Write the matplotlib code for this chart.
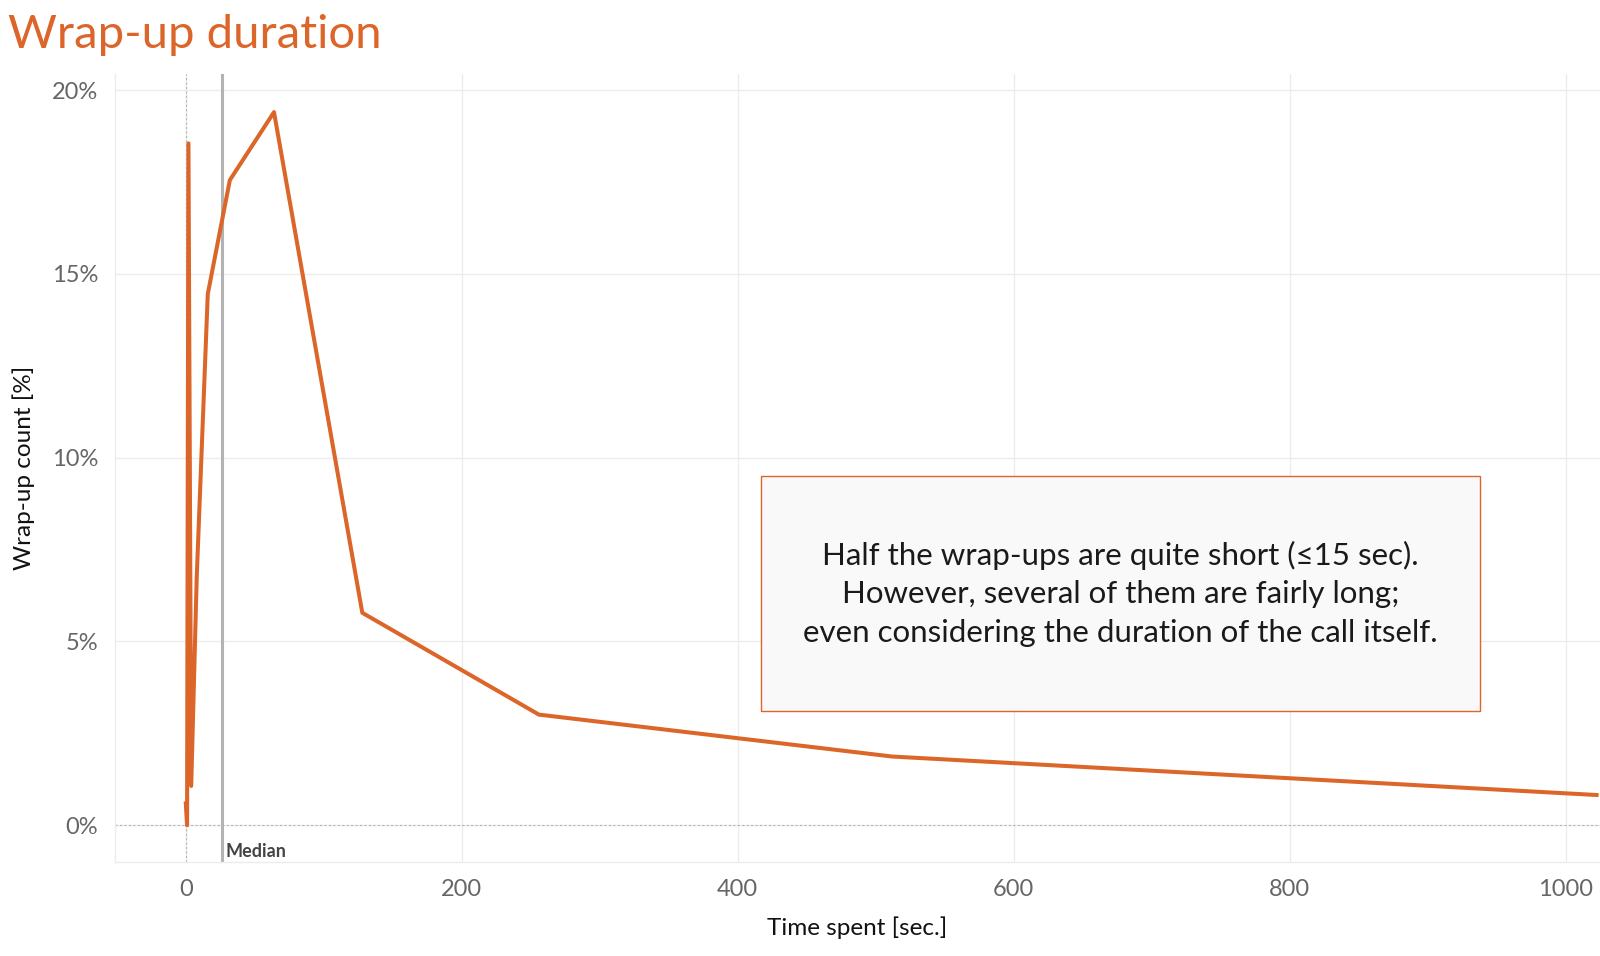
"""Wrap-up duration: share of wrap-ups per (log-spaced) duration bin."""

import matplotlib

matplotlib.use("Agg")
import matplotlib.pyplot as plt
from matplotlib.patches import Rectangle
from matplotlib.ticker import FuncFormatter

# ---------------------------------------------------------------------------
# Data
# ---------------------------------------------------------------------------
time_sec = [0, 1, 2, 4, 8, 16, 32, 64, 128, 256, 512, 1024]
wrapup_pct = [0.65, 0.0, 18.55, 1.07, 6.75, 14.45, 17.55, 19.40, 5.78, 3.01, 1.87, 0.82]
median_sec = 26
x_ticks = [0, 200, 400, 600, 800, 1000]
y_ticks = [0, 5, 10, 15, 20]
note = (
    "Half the wrap-ups are quite short (\u226415 sec).\n"
    "However, several of them are fairly long;\n"
    "even considering the duration of the call itself."
)

ORANGE = "#dc6529"
GRID = "#ececec"

plt.rcParams["font.family"] = ["Lato", "DejaVu Sans"]

fig = plt.figure(figsize=(16, 9.56), dpi=100)
ax = fig.add_axes([0.0719, 0.0983, 0.9281, 0.8248])

# reference lines
ax.axhline(0, color="#b5b5b5", linestyle=(0, (2, 2)), linewidth=0.8, zorder=1)
ax.axvline(0, color="#b5b5b5", linestyle=(0, (2, 2)), linewidth=0.8, zorder=1)
ax.axvline(median_sec, color="#b3b3b3", linewidth=2.2, zorder=2)
ax.text(median_sec + 3, -0.72, "Median", fontsize=13, fontweight="bold",
        color="#444444", ha="left", va="center")

ax.plot(time_sec, wrapup_pct, color=ORANGE, linewidth=2.9,
        solid_joinstyle="round", solid_capstyle="butt", zorder=3)

# annotation box
ax.add_patch(Rectangle((0.435, 0.1915), 0.484, 0.2975, transform=ax.transAxes,
                       facecolor="#f9f9f9", edgecolor=ORANGE, linewidth=1.0, zorder=4))
ax.text(0.677, 0.34, note, transform=ax.transAxes, ha="center", va="center",
        fontsize=22.5, color="#1a1a1a", linespacing=1.45, zorder=5)

ax.set_xlim(-51.2, 1025)
ax.set_ylim(-1.0, 20.45)
ax.set_xticks(x_ticks)
ax.set_yticks(y_ticks)
ax.yaxis.set_major_formatter(FuncFormatter(lambda v, _: f"{v:.0f}%"))
ax.tick_params(length=0, labelsize=17, labelcolor="#666666", pad=12)
ax.grid(color=GRID, linewidth=1.0)
ax.set_axisbelow(True)
for side in ("top", "right"):
    ax.spines[side].set_visible(False)
for side in ("left", "bottom"):
    ax.spines[side].set_color(GRID)
    ax.spines[side].set_linewidth(1.0)

ax.set_xlabel("Time spent [sec.]", fontsize=17.5, color="#111111", labelpad=12)
ax.set_ylabel("Wrap-up count [%]", fontsize=17.5, color="#111111", labelpad=12)

fig.text(0.005, 0.963, "Wrap-up duration", fontsize=34, color=ORANGE,
         ha="left", va="center")

fig.savefig("out.png", dpi=100)
